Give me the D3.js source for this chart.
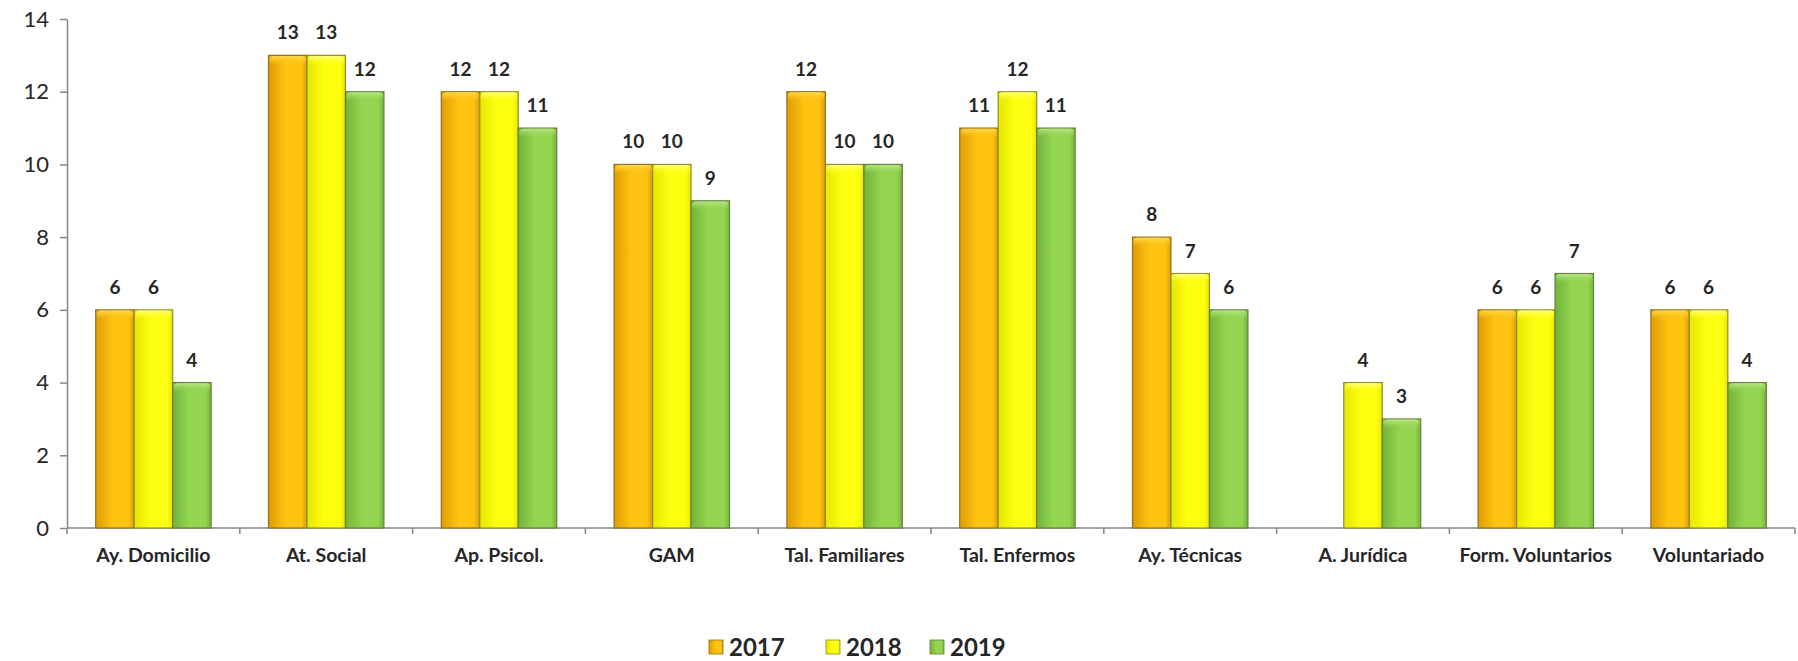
<!DOCTYPE html>
<html><head><meta charset="utf-8">
<script src="https://cdn.jsdelivr.net/npm/d3@7"></script>
<style>
html,body{margin:0;padding:0;background:#fff;}
svg{display:block;}
text{font-family:Lato,"Open Sans",sans-serif;}
</style></head>
<body>
<svg id="chart" width="1798" height="661"></svg>
<script>
const categories = ["Ay. Domicilio","At. Social","Ap. Psicol.","GAM","Tal. Familiares","Tal. Enfermos","Ay. Técnicas","A. Jurídica","Form. Voluntarios","Voluntariado"];
const series = ["2017","2018","2019"];
const values2017 = [6,13,12,10,12,11,8,null,6,6];
const values2018 = [6,13,12,10,10,12,7,4,6,6];
const values2019 = [4,12,11,9,10,11,6,3,7,4];
const yTicks = [0,2,4,6,8,10,12,14];

const seriesValues = {"2017":values2017,"2018":values2018,"2019":values2019};
const colors = {
  "2017":{edge:"#E09C00",mid:"#FFC312",light:"#FFD84A",stroke:"#8C7322"},
  "2018":{edge:"#E6E600",mid:"#FFFF10",light:"#FFFF80",stroke:"#8F8F2A"},
  "2019":{edge:"#72B43A",mid:"#94D550",light:"#B7E588",stroke:"#6A7F3C"}
};

const svg = d3.select("#chart");
const mLeft = 67, mRight = 1795, mTop = 19, mBottom = 528;

const x0 = d3.scaleBand().domain(categories).range([mLeft, mRight]).padding(0);
const bw = x0.bandwidth();
const pad = bw * 0.166;
const x1 = d3.scaleBand().domain(series).range([pad, bw - pad]).padding(0);
const y = d3.scaleLinear().domain([0, 14]).range([mBottom, mTop]);

const defs = svg.append("defs");
series.forEach(s => {
  const c = colors[s];
  const g = defs.append("linearGradient").attr("id","g"+s).attr("x1","0").attr("x2","1").attr("y1","0").attr("y2","0");
  g.append("stop").attr("offset","0").attr("stop-color",c.edge);
  g.append("stop").attr("offset","0.45").attr("stop-color",c.mid);
  g.append("stop").attr("offset","0.85").attr("stop-color",c.mid);
  g.append("stop").attr("offset","1").attr("stop-color",c.edge);
  const t = defs.append("linearGradient").attr("id","t"+s).attr("x1","0").attr("x2","0").attr("y1","0").attr("y2","1");
  t.append("stop").attr("offset","0").attr("stop-color",c.light);
  t.append("stop").attr("offset","1").attr("stop-color",c.mid).attr("stop-opacity",0);
});

// axes
const yAxis = d3.axisLeft(y).tickValues(yTicks).tickSize(7).tickPadding(11).tickSizeOuter(0);
const ga = svg.append("g").attr("transform",`translate(${mLeft},0)`).call(yAxis);
ga.select(".domain").attr("stroke","#868686").attr("stroke-width",1.5);
ga.selectAll(".tick line").attr("stroke","#868686").attr("stroke-width",1.5);
ga.selectAll(".tick text").attr("font-size",22).attr("fill","#262626").attr("font-family","Lato,sans-serif");

const xb = svg.append("g");
xb.append("line").attr("x1",mLeft).attr("x2",mRight).attr("y1",mBottom).attr("y2",mBottom).attr("stroke","#868686").attr("stroke-width",1.5);
const boundaries = categories.map(c => x0(c)).concat([x0(categories[categories.length-1]) + bw]);
xb.selectAll("line.tk").data(boundaries).join("line").attr("class","tk")
  .attr("x1",d=>d).attr("x2",d=>d).attr("y1",mBottom).attr("y2",mBottom+6)
  .attr("stroke","#868686").attr("stroke-width",1.5);
xb.selectAll("text").data(categories).join("text")
  .attr("x",d=>x0(d)+bw/2).attr("y",mBottom+34)
  .attr("text-anchor","middle").attr("font-size",19.5).attr("font-weight","bold").attr("fill","#262626")
  .text(d=>d);

// bars
const groups = svg.append("g").selectAll("g").data(categories).join("g")
  .attr("transform",d=>`translate(${x0(d)},0)`);
const bars = groups.selectAll("g.bar").data((c,i)=>series.map(s=>({s, v:seriesValues[s][i]})).filter(d=>d.v!==null))
  .join("g").attr("class","bar");
bars.append("rect")
  .attr("x",d=>x1(d.s)).attr("width",x1.bandwidth())
  .attr("y",d=>y(d.v)).attr("height",d=>y(0)-y(d.v))
  .attr("fill",d=>`url(#g${d.s})`).attr("stroke",d=>colors[d.s].stroke).attr("stroke-width",1.2);
bars.append("rect")
  .attr("x",d=>x1(d.s)+1).attr("width",x1.bandwidth()-2)
  .attr("y",d=>y(d.v)+0.6).attr("height",9).attr("rx",4)
  .attr("fill",d=>`url(#t${d.s})`);
bars.append("text")
  .attr("x",d=>x1(d.s)+x1.bandwidth()/2).attr("y",d=>y(d.v)-16)
  .attr("text-anchor","middle").attr("font-size",19).attr("font-weight","bold").attr("fill","#262626")
  .text(d=>d.v);

// legend
const legendX = {"2017":709,"2018":826,"2019":930};
const lg = svg.append("g").selectAll("g").data(series).join("g")
  .attr("transform",d=>`translate(${legendX[d]},0)`);
lg.append("rect").attr("x",0).attr("y",640).attr("width",14).attr("height",14)
  .attr("fill",d=>`url(#g${d})`).attr("stroke",d=>colors[d].stroke).attr("stroke-width",0.8);
lg.append("text").attr("x",20).attr("y",656).attr("font-size",24).attr("font-weight","bold").attr("fill","#262626")
  .text(d=>d);
</script>
</body></html>
